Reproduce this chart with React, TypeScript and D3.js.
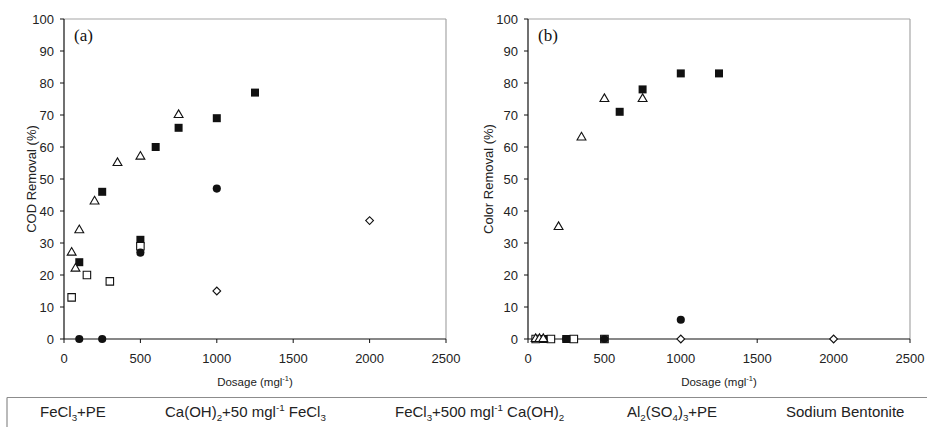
import React from "react";
import * as d3 from "d3";

// ---------- data ----------
const xTicks = [0, 500, 1000, 1500, 2000, 2500];
const yTicks = [0, 10, 20, 30, 40, 50, 60, 70, 80, 90, 100];

// Panel (a): COD removal (%)
const codFeCl3PE = [[100, 24], [250, 46], [500, 31], [600, 60], [750, 66], [1000, 69], [1250, 77]];
const codCaOH50 = [[50, 13], [150, 20], [300, 18], [500, 29]];
const codFeCl3Ca500 = [[100, 0], [250, 0], [500, 27], [1000, 47]];
const codAlumPE = [[50, 27], [75, 22], [100, 34], [200, 43], [350, 55], [500, 57], [750, 70]];
const codBentonite = [[1000, 15], [2000, 37]];

// Panel (b): Color removal (%)
const colFeCl3PE = [[100, 0], [250, 0], [500, 0], [600, 71], [750, 78], [1000, 83], [1250, 83]];
const colCaOH50 = [[50, 0], [150, 0], [300, 0], [500, 0]];
const colFeCl3Ca500 = [[100, 0], [250, 0], [500, 0], [1000, 6]];
const colAlumPE = [[50, 0], [75, 0], [100, 0], [200, 35], [350, 63], [500, 75], [750, 75]];
const colBentonite = [[1000, 0], [2000, 0]];

type Seg = { t: string; sub?: boolean; sup?: boolean };
const legendLabels: Seg[][] = [
  [{ t: "FeCl" }, { t: "3", sub: true }, { t: "+PE" }],
  [{ t: "Ca(OH)" }, { t: "2", sub: true }, { t: "+50 mgl" }, { t: "-1", sup: true }, { t: " FeCl" }, { t: "3", sub: true }],
  [{ t: "FeCl" }, { t: "3", sub: true }, { t: "+500 mgl" }, { t: "-1", sup: true }, { t: " Ca(OH)" }, { t: "2", sub: true }],
  [{ t: "Al" }, { t: "2", sub: true }, { t: "(SO" }, { t: "4", sub: true }, { t: ")" }, { t: "3", sub: true }, { t: "+PE" }],
  [{ t: "Sodium Bentonite" }],
];

// ---------- layout ----------
const W = 927;
const H = 427;
const TOP = 19;
const BOTTOM = 339;
const FONT = "'Liberation Sans', Arial, Helvetica, sans-serif";
const legendX = [40, 165, 395, 627, 786];

type Marker = "fsquare" | "osquare" | "fcircle" | "otriangle" | "odiamond";
const markerOrder: Marker[] = ["fsquare", "osquare", "fcircle", "otriangle", "odiamond"];

function markerPath(m: Marker): string {
  if (m === "fsquare" || m === "osquare") return d3.symbol(d3.symbolSquare, m === "fsquare" ? 64 : 56)()!;
  if (m === "fcircle") return d3.symbol(d3.symbolCircle, 52)()!;
  if (m === "otriangle") return d3.symbol(d3.symbolTriangle, 34)()!;
  return d3.symbol(d3.symbolSquare, 30)()!;
}

function renderSegs(segs: Seg[], size: number) {
  const out: React.ReactNode[] = [];
  let shift = 0;
  segs.forEach((s, i) => {
    let target = 0;
    if (s.sub) target = size * 0.25;
    if (s.sup) target = -size * 0.4;
    const dy = target - shift;
    shift = target;
    out.push(
      <tspan key={i} dy={dy} fontSize={s.sub || s.sup ? size * 0.65 : size}>
        {s.t}
      </tspan>
    );
  });
  return out;
}

function Panel({
  left, right, series, yTitle, tag, titleX,
}: {
  left: number; right: number; series: number[][][]; yTitle: string; tag: string; titleX: number;
}) {
  const x = d3.scaleLinear().domain([0, 2500]).range([left, right]);
  const y = d3.scaleLinear().domain([0, 100]).range([BOTTOM, TOP]);
  return (
    <g>
      {/* frame */}
      <line x1={left} x2={right} y1={TOP} y2={TOP} stroke="#a6a6a6" strokeWidth={1.2} />
      <line x1={right} x2={right} y1={TOP} y2={BOTTOM} stroke="#a6a6a6" strokeWidth={1.2} />
      {/* axes */}
      <line x1={left} x2={left} y1={TOP} y2={BOTTOM} stroke="#111" strokeWidth={1.2} />
      <line x1={left} x2={right} y1={BOTTOM} y2={BOTTOM} stroke="#111" strokeWidth={1.2} />
      {yTicks.map((t) => (
        <g key={"y" + t}>
          <line x1={left - 4} x2={left} y1={y(t)} y2={y(t)} stroke="#111" strokeWidth={1} />
          <text x={left - 10} y={y(t)} dy="0.35em" textAnchor="end" fontSize={13} fontFamily={FONT} fill="#222">
            {t}
          </text>
        </g>
      ))}
      {xTicks.map((t) => (
        <g key={"x" + t}>
          <line x1={x(t)} x2={x(t)} y1={BOTTOM} y2={BOTTOM + 4} stroke="#111" strokeWidth={1} />
          <text x={x(t)} y={363} textAnchor="middle" fontSize={13} fontFamily={FONT} fill="#222">
            {t}
          </text>
        </g>
      ))}
      <text
        transform={`translate(${titleX},${(TOP + BOTTOM) / 2}) rotate(-90)`}
        textAnchor="middle"
        dy="0.35em"
        fontSize={13}
        fontFamily={FONT}
        fill="#222"
      >
        {yTitle}
      </text>
      <text x={(left + right) / 2} y={386} textAnchor="middle" fontSize={11.5} fontFamily={FONT} fill="#222">
        {renderSegs([{ t: "Dosage (mgl" }, { t: "-1", sup: true }, { t: ")" }], 11.5)}
      </text>
      <text x={left + 10} y={41} fontSize={17} fontFamily="'Liberation Serif', 'Times New Roman', serif" fill="#111">
        {tag}
      </text>
      {series.map((pts, si) => {
        const m = markerOrder[si];
        const d = markerPath(m);
        const filled = m === "fsquare" || m === "fcircle";
        return (
          <g key={si}>
            {pts.map((p, i) => (
              <path
                key={i}
                d={d}
                transform={`translate(${x(p[0])},${y(p[1])})${m === "odiamond" ? " rotate(45)" : ""}`}
                fill={filled ? "#111" : "#fff"}
                stroke="#111"
                strokeWidth={filled ? 0 : 1.1}
              />
            ))}
          </g>
        );
      })}
    </g>
  );
}

export default function App() {
  return (
    <svg width={W} height={H} style={{ position: "absolute", left: 0, top: 0, background: "#fff" }}>
      <rect x={0} y={0} width={W} height={H} fill="#fff" />
      <Panel
        left={64}
        right={446}
        series={[codFeCl3PE, codCaOH50, codFeCl3Ca500, codAlumPE, codBentonite]}
        yTitle="COD Removal (%)"
        tag="(a)"
        titleX={31}
      />
      <Panel
        left={528}
        right={910}
        series={[colFeCl3PE, colCaOH50, colFeCl3Ca500, colAlumPE, colBentonite]}
        yTitle="Color Removal (%)"
        tag="(b)"
        titleX={488}
      />
      {/* legend box */}
      <line x1={7} x2={W} y1={397.5} y2={397.5} stroke="#8c8c8c" strokeWidth={1.2} />
      <line x1={7} x2={7} y1={397.5} y2={H} stroke="#8c8c8c" strokeWidth={1.2} />
      {legendLabels.map((segs, i) => (
        <text key={i} x={legendX[i]} y={417} fontSize={15} fontFamily={FONT} fill="#222">
          {renderSegs(segs, 15)}
        </text>
      ))}
    </svg>
  );
}
